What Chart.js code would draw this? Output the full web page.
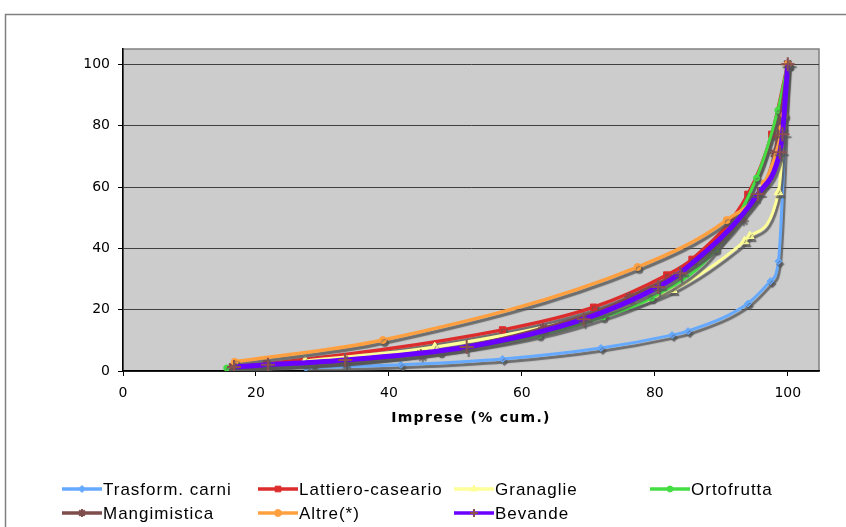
<!DOCTYPE html>
<html lang="it">
<head>
<meta charset="UTF-8" />
<title>Curve di concentrazione</title>
<script src="https://cdn.jsdelivr.net/npm/chart.js"></script>
<style>
  html, body { margin: 0; padding: 0; background: #fff; }
  canvas { display: block; }
</style>
</head>
<body>
<canvas id="grafico" width="846" height="527"></canvas>
<script>
  // serie: x = imprese (% cum.), y = valori (% cum.)
  const etichette = ['Trasform. carni', 'Lattiero-caseario', 'Granaglie', 'Ortofrutta', 'Mangimistica', 'Altre(*)', 'Bevande'];

  const carniX = [27.5, 41.8, 57.1, 71.9, 82.6, 85.0, 94.0, 97.4, 98.6, 100];
  const carniY = [1.0, 2.0, 3.9, 7.5, 11.7, 13.0, 22.0, 29.3, 35.8, 100];

  const latteX = [16.5, 21.6, 57.1, 70.8, 81.8, 85.6, 94.0, 97.6, 100];
  const latteY = [1.3, 2.3, 13.4, 20.8, 31.3, 36.4, 57.6, 77.2, 100];

  const granaglieX = [27.4, 46.9, 72.2, 82.7, 93.5, 94.3, 98.6, 100];
  const granaglieY = [3.3, 7.8, 18.9, 26.4, 42.3, 44.0, 58.3, 100];

  const ortoX = [15.6, 28.6, 47.7, 62.6, 72.2, 79.5, 89.2, 95.3, 98.5, 100];
  const ortoY = [1.0, 2.3, 6.2, 11.7, 17.6, 23.8, 39.7, 62.9, 85.0, 100];

  const mangimiX = [16.5, 33.4, 44.8, 63.2, 76.2, 93.1, 98.0, 100];
  const mangimiY = [1.3, 3.0, 5.5, 14.0, 24.1, 49.8, 71.0, 100];

  const altreX = [16.8, 39.1, 77.4, 90.8, 96.5, 99.2, 99.5, 100];
  const altreY = [3.0, 10.1, 33.9, 49.2, 61.2, 79.2, 83.4, 100];

  const bevandeX = [16.7, 21.8, 33.4, 51.7, 69.3, 80.5, 83.8, 95.5, 98.8, 99.2, 100];
  const bevandeY = [1.3, 2.0, 3.6, 7.8, 16.9, 27.4, 31.9, 57.7, 71.3, 77.2, 100];

  const tickAssi = [0, 20, 40, 60, 80, 100];
  const titoloX = 'Imprese (% cum.)';

  const serieX = [carniX, latteX, granaglieX, ortoX, mangimiX, altreX, bevandeX];
  const serieY = [carniY, latteY, granaglieY, ortoY, mangimiY, altreY, bevandeY];

  // stile di ogni serie (colore linea, marcatore)
  const stili = [
    { col: '#66AAFF', pt: '#66AAFF', forma: 'rectRot', r: 3.5, w: 3 },
    { col: '#DD2C2C', pt: '#DD2C2C', forma: 'rect', r: 4.5, w: 3.5 },
    { col: '#FFFF99', pt: '#FFFF99', forma: 'triangle', r: 5, w: 3 },
    { col: '#44DD44', pt: '#44DD44', forma: 'circle', r: 3, w: 3 },
    { col: '#7F4C4C', pt: '#7F4C4C', forma: 'star', r: 5, w: 3 },
    { col: '#FFA040', pt: '#FFA040', forma: 'circle', r: 3.5, w: 3.5 },
    { col: '#6A00FF', pt: '#8A5050', forma: 'cross', r: 7, w: 5 }
  ];

  const datasets = etichette.map((nome, i) => ({
    label: nome,
    data: serieX[i].map((x, k) => ({ x: x, y: serieY[i][k] })),
    borderColor: stili[i].col,
    borderWidth: stili[i].w,
    backgroundColor: stili[i].pt,
    pointBackgroundColor: stili[i].pt,
    pointBorderColor: stili[i].pt,
    pointBorderWidth: stili[i].forma === 'star' || stili[i].forma === 'cross' ? 2 : 1,
    pointStyle: stili[i].forma,
    pointRadius: stili[i].r,
    cubicInterpolationMode: 'monotone',
    fill: false,
    order: etichette.length - i
  }));

  // sfondo, cornice esterna e area del grafico grigia
  const sfondo = {
    id: 'sfondo',
    beforeDraw(chart) {
      const c = chart.ctx, a = chart.chartArea;
      c.save();
      c.fillStyle = '#fff';
      c.fillRect(0, 0, chart.width, chart.height);
      c.strokeStyle = '#808080';
      c.lineWidth = 1.5;
      c.beginPath();
      c.moveTo(5.5, chart.height + 2);
      c.lineTo(5.5, 14.5);
      c.lineTo(chart.width + 2, 14.5);
      c.stroke();
      c.fillStyle = '#CCCCCC';
      c.fillRect(a.left, a.top, a.right - a.left, a.bottom - a.top);
      c.strokeStyle = '#808080';
      c.lineWidth = 1.5;
      c.strokeRect(a.left, a.top, a.right - a.left, a.bottom - a.top);
      c.restore();
    }
  };

  // ombra grigia sotto le linee
  const ombra = {
    id: 'ombra',
    beforeDatasetDraw(chart) {
      const c = chart.ctx;
      c.save();
      c.shadowColor = 'rgba(85,85,85,0.8)';
      c.shadowOffsetX = 2;
      c.shadowOffsetY = 3;
      c.shadowBlur = 1;
    },
    afterDatasetDraw(chart) {
      chart.ctx.restore();
    }
  };

  // titolo asse x e legenda a colonne fisse come nell'originale
  const legenda = {
    id: 'legenda',
    afterDraw(chart) {
      const c = chart.ctx, a = chart.chartArea;
      c.save();
      c.fillStyle = '#000';
      c.textAlign = 'center';
      c.textBaseline = 'middle';
      c.font = 'bold 14px "DejaVu Sans", Verdana, sans-serif';
      c.letterSpacing = '1.3px';
      c.fillText(titoloX, (a.left + a.right) / 2, 418);

      c.textAlign = 'left';
      c.font = '17px "Liberation Sans", Arial, sans-serif';
      c.letterSpacing = '1px';
      chart.data.datasets.forEach((ds, i) => {
        const x0 = 62 + (i % 4) * 196;
        const y = 489 + Math.floor(i / 4) * 24;
        c.strokeStyle = ds.borderColor;
        c.lineWidth = 3.5;
        c.beginPath();
        c.moveTo(x0, y);
        c.lineTo(x0 + 40, y);
        c.stroke();
        c.fillStyle = ds.pointBackgroundColor;
        c.strokeStyle = ds.pointBorderColor;
        c.lineWidth = ds.pointBorderWidth;
        Chart.helpers.drawPoint(c, { pointStyle: ds.pointStyle, radius: Math.min(ds.pointRadius, 4), rotation: 0, borderWidth: ds.pointBorderWidth }, x0 + 20, y);
        c.fillStyle = '#000';
        c.fillText(ds.label, x0 + 41, y + 1);
      });
      c.restore();
    }
  };

  const soloTick = s => { s.ticks = tickAssi.map(v => ({ value: v })); };

  new Chart(document.getElementById('grafico'), {
    type: 'line',
    data: { datasets: datasets },
    plugins: [sfondo, ombra, legenda],
    options: {
      responsive: false,
      devicePixelRatio: 1,
      animation: false,
      layout: { padding: { top: 49, right: 27, left: 0, bottom: 0 } },
      plugins: { legend: { display: false }, tooltip: { enabled: false } },
      scales: {
        x: {
          type: 'linear',
          min: 0,
          max: 104.7,
          afterBuildTicks: soloTick,
          afterFit: s => { s.height = 156; },
          ticks: { color: '#000', padding: 9, maxRotation: 0, font: { family: 'DejaVu Sans', size: 14 } },
          grid: { drawOnChartArea: false, tickLength: 5, tickColor: '#000' },
          border: { color: '#000', width: 1.5 }
        },
        y: {
          min: 0,
          max: 105,
          afterBuildTicks: soloTick,
          afterFit: s => { s.width = 123; },
          ticks: { color: '#000', padding: 8, font: { family: 'DejaVu Sans', size: 14 } },
          grid: { color: '#404040', borderDash: [4, 4], tickBorderDash: [], tickColor: '#000', tickLength: 5 },
          border: { color: '#000', width: 1.5 }
        }
      }
    }
  });
</script>
</body>
</html>
